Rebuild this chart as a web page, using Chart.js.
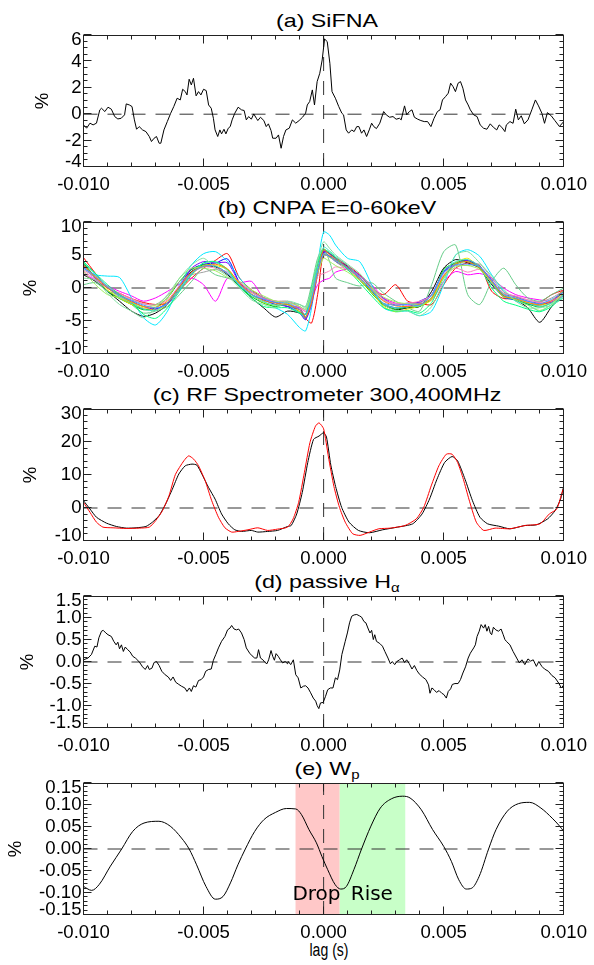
<!DOCTYPE html>
<html>
<head>
<meta charset="utf-8">
<script src="https://cdn.jsdelivr.net/npm/chart.js@4.4.0/dist/chart.umd.min.js"></script>
<style>
body { margin: 0; background: #fff; width: 594px; height: 965px; position: relative; overflow: hidden;
       font-family: "Liberation Sans", Arial, sans-serif; }
canvas { position: absolute; left: 0; }
.ttl { position: absolute; left: 326.5px; white-space: nowrap; font-size: 18.6px; line-height: 20px;
       transform: translateX(-50%) scaleX(1.25); color: #000; }
.ttl sub { font-size: 12px; vertical-align: -4px; line-height: 0; }
.xlab { position: absolute; left: 329px; top: 940px; white-space: nowrap; font-size: 18px; line-height: 20px;
        transform: translateX(-50%) scaleX(0.78); color: #000; }
</style>
</head>
<body>
<div class="ttl" style="top:10.6px">(a) SiFNA</div>
<div class="ttl" style="top:197.6px">(b) CNPA E=0-60keV</div>
<div class="ttl" style="top:384.6px">(c) RF Spectrometer 300,400MHz</div>
<div class="ttl" style="top:571.6px">(d) passive H<sub>&alpha;</sub></div>
<div class="ttl" style="top:758.6px">(e) W<sub>p</sub></div>
<div class="xlab">lag (s)</div>
<canvas id="ca" width="594" height="196"></canvas>
<canvas id="cb" width="594" height="196"></canvas>
<canvas id="cc" width="594" height="196"></canvas>
<canvas id="cd" width="594" height="196"></canvas>
<canvas id="ce" width="594" height="196"></canvas>
<script>
// ---- shared axis ----
const xTickVals = [-0.010, -0.005, 0.000, 0.005, 0.010];
const xTickLabels = ['-0.010', '-0.005', '0.000', '0.005', '0.010'];

// ---- (a) SiFNA, lag in ms ----
const lagA = [-10.0,-9.87,-9.73,-9.60,-9.46,-9.32,-9.25,-9.11,-8.98,-8.84,
  -8.70,-8.57,-8.43,-8.29,-8.22,-8.09,-7.98,-7.88,-7.79,-7.68,
  -7.54,-7.40,-7.26,-7.17,-7.06,-6.96,-6.85,-6.78,-6.65,-6.51,
  -6.37,-6.24,-6.10,-5.97,-5.87,-5.76,-5.69,-5.60,-5.51,-5.42,
  -5.31,-5.21,-5.11,-5.00,-4.89,-4.79,-4.68,-4.59,-4.52,-4.41,
  -4.32,-4.25,-4.15,-4.07,-3.97,-3.89,-3.81,-3.70,-3.56,-3.42,
  -3.31,-3.22,-3.12,-3.01,-2.91,-2.80,-2.74,-2.63,-2.49,-2.39,
  -2.30,-2.19,-2.12,-1.98,-1.88,-1.77,-1.67,-1.57,-1.43,-1.30,
  -1.16,-1.02,-0.88,-0.75,-0.68,-0.58,-0.47,-0.38,-0.27,-0.16,
  -0.06,0.04,0.15,0.26,0.35,0.49,0.63,0.76,0.83,0.94,
  1.04,1.17,1.27,1.38,1.47,1.58,1.68,1.79,1.90,2.00,
  2.09,2.20,2.34,2.50,2.61,2.75,2.89,3.02,3.16,3.23,
  3.37,3.46,3.57,3.68,3.78,3.92,4.05,4.19,4.33,4.47,
  4.60,4.74,4.85,4.95,5.08,5.19,5.29,5.39,5.49,5.60,
  5.70,5.80,5.91,6.02,6.11,6.25,6.39,6.52,6.66,6.80,
  6.94,7.07,7.21,7.31,7.42,7.55,7.61,7.76,7.89,8.00,
  8.11,8.23,8.36,8.51,8.67,8.82,8.95,9.09,9.20,9.32,
  9.48,9.63,9.82,10.0];
const sifna = [-0.81,-1.06,-0.68,-0.81,-0.68,0.33,0.45,0.20,0.53,0.38,
  -0.18,-0.36,-0.31,-0.05,0.78,0.70,0.58,-0.43,-1.14,-0.94,
  -1.19,-1.32,-1.69,-2.07,-1.82,-1.69,-2.20,-2.20,-1.19,-0.56,
  0.07,0.58,1.21,1.08,1.89,1.71,1.46,2.65,2.22,2.72,
  1.39,1.71,1.46,1.89,1.79,0.70,0.45,-0.31,-1.19,-1.69,
  -1.19,-1.49,-1.14,-1.49,-1.06,-0.94,-0.43,0.07,0.53,0.33,
  0.28,-0.43,-0.18,-0.38,0.02,-0.31,-0.48,-0.23,-0.48,-0.94,
  -0.73,-1.24,-1.82,-1.82,-1.57,-2.58,-1.69,-1.19,-1.06,-0.43,
  -0.68,-0.48,-0.23,0.07,0.70,0.96,1.84,0.70,2.47,3.10,
  4.11,5.70,5.50,3.86,1.71,1.21,0.58,0.07,-0.05,-1.19,
  -1.44,-1.19,-1.32,-0.94,-0.94,-1.44,-1.19,-1.69,-1.19,-0.68,
  -0.94,-1.09,-0.68,0.20,-0.05,-0.23,-0.18,-0.38,-0.31,-0.43,
  0.63,-0.05,0.20,0.33,-0.23,-0.38,-0.48,-0.56,-0.56,-0.94,
  -0.31,0.20,0.33,1.08,1.34,1.59,2.35,2.09,1.71,2.35,
  2.47,1.97,1.08,0.70,0.33,-0.05,-0.18,-0.81,-1.06,-1.14,
  -0.73,-0.99,-1.19,-0.81,-0.99,-1.32,-0.81,-0.56,-0.69,0.38,
  -0.43,-0.12,-0.73,-0.43,0.33,1.08,0.63,0.07,-0.69,0.12,
  -0.12,-0.48,-0.93,-0.56];

// ---- (b) CNPA, one lag grid (ms) for all channels ----
const lagB = [-10,-9.5,-9,-8.5,-8,-7.5,-7,-6.5,-6,-5.5,-5,-4.5,-4,-3.5,-3,-2.5,-2,-1.5,-1,-0.75,
  -0.5,-0.25,0,0.25,0.5,1,1.5,2,2.5,3,3.5,4,4.5,5,5.5,6,6.5,7,7.5,8,8.5,9,9.5,10];
const cnpaColors = ['#000000','#ff0000','#0000ff','#ff00ff','#00e8ff','#00c000','#66cc88','#e8e800',
  '#8000ff','#a0a0a0','#ff80c0','#40e0c0','#00ff80','#a0f060','#ff8000','#40a0ff','#80e0a0'];
const cnpa = [
  [2.0,1.0,-0.5,-2.0,-3.5,-4.3,-3.8,-2.5,0.0,2.5,3.3,3.2,2.0,0.3,-1.5,-3.0,-4.4,-3.5,-3.8,-4.5,-2.0,2.8,5.0,4.8,4.2,3.3,1.2,-0.5,-2.5,-3.3,-3.0,-2.8,-0.5,3.0,4.3,3.8,3.0,0.5,-1.2,-1.8,-3.0,-5.2,-2.8,-0.8],
  [4.6,2.2,0.0,-0.8,-1.6,-2.2,-2.5,-2.3,-0.3,1.5,3.0,4.2,5.2,1.5,-0.3,-1.5,-2.2,-2.8,-3.0,-4.6,-5.3,-1.0,5.5,5.2,4.6,3.4,2.0,0.0,-1.0,0.5,-2.0,-2.3,-2.5,0.5,3.0,3.8,3.4,-0.5,-1.6,-1.6,-2.5,-2.2,-1.0,-0.3],
  [3.6,1.5,-0.5,-1.5,-2.3,-3.2,-3.2,-2.2,0.3,2.8,3.6,3.8,4.4,0.8,-1.0,-1.8,-2.5,-2.8,-3.8,-4.8,-1.2,3.0,5.4,4.8,4.0,3.0,1.4,-0.4,-2.4,-3.0,-2.9,-2.0,-1.0,2.5,3.8,4.2,3.0,0.7,-1.4,-1.8,-2.4,-2.6,-2.0,-0.6],
  [2.2,1.2,0.3,-0.5,-1.2,-2.0,-1.5,-0.5,0.6,1.5,0.5,-2.0,1.5,0.8,1.0,-1.5,-2.0,-2.5,-3.0,-3.5,-1.8,0.5,1.2,1.5,2.4,2.8,1.8,0.5,-1.5,-2.3,-2.6,-2.4,-1.8,1.0,2.5,2.0,2.2,1.5,0.0,-1.0,-1.5,-1.8,-2.0,-1.2],
  [3.0,2.0,1.8,1.6,-1.5,-4.5,-5.6,-3.5,0.5,3.5,5.2,5.5,4.0,1.5,-0.5,-2.0,-3.0,-4.0,-6.0,-6.5,-3.0,3.5,8.5,8.0,6.5,4.5,4.0,0.5,-3.0,-3.6,-3.5,-4.2,-3.5,0.5,5.0,5.8,4.8,2.0,-0.5,-2.0,-2.5,-3.5,-2.5,-1.5],
  [3.8,1.6,-0.5,-1.6,-2.5,-3.3,-3.0,-1.5,1.0,2.8,3.5,3.3,2.2,0.2,-1.3,-2.3,-2.8,-2.5,-3.6,-4.0,-0.5,3.6,5.8,5.2,4.5,3.0,1.3,-0.8,-2.6,-3.2,-2.9,-2.8,-1.6,2.8,3.8,4.2,3.2,0.9,-1.2,-1.8,-2.4,-2.9,-2.2,-0.5],
  [0.5,0.8,-0.5,-1.0,-2.5,-3.8,-3.5,-2.8,-1.0,1.0,3.0,2.0,1.5,0.8,-0.5,-1.5,-2.0,-2.2,-2.5,-2.8,0.5,4.5,6.0,4.0,1.5,0.8,0.3,0.8,-0.8,-2.0,-3.0,-3.5,0.5,5.5,6.5,-1.0,-2.5,1.0,3.0,0.5,-1.5,-2.0,-1.0,0.0],
  [3.5,1.5,-0.3,-1.5,-2.5,-3.0,-3.3,-2.5,-0.2,2.0,3.4,3.4,2.8,0.6,-1.0,-2.2,-2.6,-2.4,-3.6,-4.6,-2.0,2.0,5.2,4.6,4.2,2.8,1.2,-0.6,-2.8,-3.6,-3.2,-2.7,-1.8,1.8,3.8,4.5,3.0,0.8,-1.4,-1.4,-2.2,-2.6,-2.2,-0.8],
  [3.2,1.4,0.0,-1.0,-2.0,-2.8,-3.2,-2.3,0.2,3.0,4.0,3.8,3.8,0.8,-0.6,-1.6,-2.2,-2.8,-3.3,-4.7,-2.5,2.0,5.6,5.2,4.4,3.2,1.9,0.1,-1.6,-2.6,-2.3,-2.2,-1.0,2.4,3.6,4.2,3.3,1.2,-0.9,-1.3,-2.0,-2.3,-2.1,-0.2],
  [2.8,1.6,0.3,-1.0,-1.8,-2.4,-2.5,-1.2,1.0,2.0,2.4,2.8,2.2,0.5,-0.7,-1.4,-2.0,-2.0,-2.8,-3.2,-0.5,3.0,5.0,4.8,4.0,2.7,1.8,0.2,-1.8,-2.4,-2.3,-2.3,-1.0,2.0,3.4,3.4,3.6,1.5,-0.6,-1.3,-1.8,-2.1,-1.5,-0.4],
  [2.6,1.3,0.2,-0.8,-1.6,-2.4,-2.6,-1.8,0.4,2.2,3.2,3.0,2.4,0.9,-0.6,-1.6,-2.0,-2.1,-2.9,-3.6,-1.2,1.8,2.2,2.6,3.2,2.8,1.4,-0.1,-1.9,-2.4,-2.3,-2.0,-1.1,2.0,3.0,2.4,2.8,1.0,-0.8,-1.2,-1.8,-2.2,-2.0,-0.8],
  [3.9,2.0,0.1,-1.4,-2.2,-3.2,-3.4,-2.2,0.0,2.3,3.8,3.9,2.6,0.4,-1.1,-2.1,-2.6,-2.6,-3.8,-4.4,-1.0,3.2,6.2,5.6,4.8,3.4,1.6,-0.4,-2.4,-3.0,-2.8,-2.7,-1.4,2.6,4.0,4.3,3.3,0.7,-1.3,-1.7,-2.3,-2.8,-2.3,-1.0],
  [4.0,2.2,0.5,-1.0,-2.2,-4.0,-4.6,-3.0,-0.5,2.0,3.8,4.0,2.8,0.2,-1.5,-2.8,-3.0,-3.0,-3.8,-4.0,0.0,3.8,5.8,5.4,4.6,2.8,0.8,-1.2,-3.0,-3.5,-3.4,-3.8,-2.2,1.5,3.6,4.0,3.0,0.0,-2.0,-2.6,-3.2,-3.6,-2.8,-1.2],
  [2.5,0.5,-1.0,-1.5,-2.2,-2.8,-2.6,-1.5,1.5,3.0,3.0,2.6,1.6,1.0,-0.3,-1.2,-2.0,-2.2,-2.8,-3.3,-1.0,2.2,4.5,4.0,3.4,2.4,1.2,0.0,-1.4,-2.1,-2.4,-2.5,-1.6,1.5,3.2,3.4,2.8,0.8,-0.9,-1.8,-2.6,-3.4,-2.5,-0.8],
  [3.4,1.7,0.0,-1.2,-2.1,-2.8,-2.9,-2.0,0.2,2.4,3.3,3.6,2.9,0.7,-0.9,-1.9,-2.3,-2.5,-3.3,-4.3,-2.2,2.4,5.8,5.0,4.3,3.1,1.6,-0.2,-2.0,-2.7,-2.8,-2.5,-1.5,1.8,3.6,4.0,3.0,1.0,-1.2,-1.6,-2.2,-2.5,-1.9,-0.3],
  [3.0,1.9,0.2,-1.2,-1.9,-2.6,-3.0,-2.5,-0.3,2.2,3.3,3.3,2.2,0.4,-1.0,-1.7,-2.2,-2.3,-3.2,-4.0,-1.5,2.6,5.2,4.7,4.2,3.0,1.6,-0.3,-2.3,-2.6,-2.5,-2.6,-1.1,2.3,3.5,3.6,3.2,1.1,-1.0,-1.5,-2.0,-2.4,-1.7,-0.6],
  [1.5,1.2,-0.8,-2.5,-3.5,-4.5,-3.0,-1.0,1.5,3.5,4.5,3.0,1.8,0.0,-1.8,-2.5,-3.0,-2.0,-2.5,-3.0,-0.2,4.0,7.0,6.0,5.0,3.6,2.2,0.2,-2.5,-3.4,-3.5,-4.2,-2.8,1.0,5.0,5.5,3.8,1.8,-0.2,-2.0,-3.0,-3.0,-2.6,-1.5]
];

// ---- (c) RF spectrometer 300 MHz (black) and 400 MHz (red) ----
const lagC300 = [-10.0,-9.73,-9.46,-9.04,-8.63,-8.22,-7.81,-7.40,-7.13,-6.85,-6.58,-6.30,-6.03,-5.76,-5.48,-5.28,
  -5.07,-4.79,-4.52,-4.25,-3.97,-3.70,-3.42,-3.01,-2.74,-2.33,-1.92,-1.50,-1.35,-1.12,-0.89,-0.66,-0.42,-0.19,
  0.0,0.12,0.30,0.50,0.75,1.06,1.45,1.91,2.46,3.08,3.71,4.10,4.41,4.72,5.04,5.35,5.58,5.89,6.20,6.51,6.83,
  7.29,7.76,8.39,8.86,9.33,9.64,9.87,10.0];
const rf300 = [2.2,-0.3,-2.8,-4.6,-5.6,-6.1,-6.0,-5.6,-4.3,-2.3,1.2,5.7,10.3,12.8,13.3,13.0,
  10.3,6.2,2.7,-1.8,-4.8,-6.6,-7.1,-6.8,-7.3,-7.1,-6.8,-5.6,-5.3,-1.8,4.7,13.8,20.8,21.8,
  22.8,21.5,13.0,6.5,0.2,-4.3,-6.8,-7.5,-6.6,-5.8,-4.8,-1.8,2.7,8.7,13.8,15.6,14.3,8.7,2.2,-2.8,-4.8,
  -5.5,-6.3,-5.3,-5.1,-3.3,-0.8,2.7,6.7];
const lagC400 = [-10.0,-9.73,-9.46,-9.19,-8.77,-8.22,-7.68,-7.26,-6.99,-6.71,-6.44,-6.17,-5.82,-5.62,-5.41,-5.21,
  -4.93,-4.66,-4.38,-4.11,-3.83,-3.56,-3.15,-2.74,-2.33,-1.92,-1.50,-1.27,-1.04,-0.80,-0.57,-0.34,-0.19,
  0.0,0.20,0.43,0.66,0.90,1.21,1.52,1.91,2.30,2.77,3.39,3.86,4.17,4.48,4.80,5.11,5.35,5.58,5.82,6.05,6.36,
  6.67,7.14,7.76,8.39,9.01,9.40,9.71,9.95,10.0];
const rf400 = [1.7,-1.3,-4.3,-5.8,-6.0,-6.2,-6.1,-5.8,-3.8,-0.8,3.7,10.2,14.3,15.8,14.8,12.8,
  8.2,2.2,-2.8,-6.0,-7.3,-7.1,-6.6,-6.0,-6.8,-6.4,-5.8,-3.3,1.7,10.8,19.8,24.8,25.8,
  24.0,15.5,6.5,0.2,-4.3,-7.8,-8.3,-7.3,-6.3,-6.1,-5.3,-3.3,0.2,6.7,12.8,16.3,16.3,13.8,8.7,2.7,-4.3,
  -6.8,-6.1,-6.3,-5.3,-4.8,-1.8,-0.3,5.2,6.0];

// ---- (d) passive H-alpha ----
const lagD = [-10.0,-9.81,-9.67,-9.53,-9.44,-9.36,-9.25,-9.18,-9.07,-8.98,-8.84,-8.74,-8.64,-8.57,-8.50,-8.42,-8.34,-8.26,-8.16,-8.06,
  -7.95,-7.84,-7.74,-7.65,-7.54,-7.43,-7.33,-7.26,-7.15,-7.06,-6.96,-6.85,-6.74,-6.60,-6.47,-6.37,-6.27,-6.16,-6.03,-5.92,
  -5.78,-5.69,-5.59,-5.51,-5.42,-5.32,-5.21,-5.10,-5.00,-4.91,-4.79,-4.68,-4.59,-4.49,-4.38,-4.25,-4.11,-4.00,-3.90,-3.83,
  -3.73,-3.63,-3.54,-3.42,-3.31,-3.22,-3.08,-2.98,-2.87,-2.78,-2.71,-2.63,-2.53,-2.44,-2.36,-2.29,-2.19,-2.12,-2.05,-1.98,
  -1.89,-1.80,-1.71,-1.60,-1.50,
  -1.47,-1.37,-1.26,-1.16,-1.06,-0.95,-0.84,-0.75,-0.65,-0.54,-0.43,-0.33,-0.27,-0.20,-0.13,-0.02,0.08,0.17,0.28,0.39,
  0.49,0.58,0.67,0.76,0.83,0.90,0.99,1.08,1.17,1.27,1.38,1.49,1.58,1.68,1.76,1.86,1.93,2.00,2.07,2.13,
  2.20,2.34,2.45,2.55,2.68,2.78,2.86,2.96,3.05,3.16,3.27,3.37,3.46,3.57,3.68,3.78,3.88,3.98,4.12,4.26,
  4.37,4.43,4.51,4.60,4.70,4.81,4.92,5.01,5.11,5.19,5.29,5.36,5.47,5.60,5.70,5.80,5.91,6.02,6.11,6.25,
  6.32,6.39,6.48,6.56,6.66,6.73,6.80,6.87,6.94,7.00,7.07,7.17,7.28,7.39,7.48,7.55,
  7.61,7.76,7.89,8.04,8.15,8.26,8.38,8.51,8.62,8.73,8.86,8.96,9.09,9.20,9.36,9.51,9.64,9.79,9.90,10.0];
const halpha = [0.05,0.09,0.17,0.36,0.34,0.55,0.70,0.72,0.66,0.62,0.58,0.47,0.39,0.45,0.30,0.39,0.24,0.34,0.28,0.23,
  0.13,0.09,0.04,-0.02,-0.11,-0.17,-0.08,-0.17,-0.14,-0.01,0.01,-0.08,-0.21,-0.29,-0.34,-0.42,-0.34,-0.46,-0.51,-0.55,
  -0.59,-0.67,-0.59,-0.67,-0.54,-0.57,-0.42,-0.40,-0.34,-0.21,-0.17,-0.16,0.04,0.17,0.32,0.47,0.58,0.73,0.77,0.83,
  0.75,0.73,0.75,0.66,0.51,0.32,0.20,0.14,0.09,0.09,0.28,0.09,0.05,-0.01,-0.04,0.05,0.26,0.13,0.04,0.19,
  0.13,0.05,-0.02,0.01,-0.04,
  0.01,-0.06,0.05,-0.29,-0.36,-0.59,-0.55,-0.54,-0.59,-0.70,-0.82,-0.89,-0.99,-1.06,-0.93,-0.92,-0.78,-0.63,-0.59,-0.59,
  -0.36,-0.40,-0.18,0.17,0.32,0.47,0.66,0.89,1.04,1.07,1.08,1.05,1.02,0.92,0.89,0.75,0.66,0.72,0.51,0.62,
  0.47,0.42,0.36,0.24,0.09,-0.04,0.01,-0.06,0.01,0.05,0.09,-0.01,0.05,-0.04,-0.16,-0.08,-0.19,-0.27,-0.34,-0.40,
  -0.52,-0.71,-0.59,-0.63,-0.69,-0.65,-0.71,-0.74,-0.82,-0.67,-0.61,-0.51,-0.49,-0.49,-0.40,-0.25,-0.11,0.09,0.20,0.32,
  0.39,0.58,0.70,0.85,0.77,0.85,0.70,0.81,0.66,0.62,0.79,0.73,0.70,0.75,0.62,0.51,
  0.47,0.39,0.24,0.09,-0.02,0.05,-0.06,0.07,0.02,0.05,-0.10,0.01,-0.10,-0.16,-0.21,-0.31,-0.36,-0.48,-0.59,-0.52];

// ---- (e) Wp ----
const lagE = [-10.0,-9.66,-9.35,-8.88,-8.41,-7.95,-7.48,-6.86,-6.39,-5.92,-5.60,-5.29,-4.90,-4.51,-4.19,-3.88,-3.57,-3.26,
  -2.87,-2.48,-2.01,-1.55,-1.16,-0.92,-0.61,-0.30,-0.07,0.17,0.48,0.71,0.95,1.26,1.58,1.97,2.36,2.82,3.29,3.60,
  4.07,4.54,5.00,5.32,5.63,5.94,6.17,6.48,6.87,7.18,7.65,8.11,8.58,9.05,9.52,9.83,10.0];
const wp = [-0.085,-0.094,-0.081,-0.039,0.000,0.040,0.059,0.063,0.052,0.025,0.000,-0.036,-0.085,-0.114,-0.108,-0.077,-0.036,0.000,
  0.040,0.067,0.083,0.092,0.091,0.078,0.044,0.014,-0.017,-0.047,-0.081,-0.091,-0.085,-0.047,0.000,0.052,0.093,0.114,0.120,0.116,
  0.089,0.044,0.006,-0.028,-0.070,-0.091,-0.089,-0.062,0.000,0.044,0.086,0.103,0.106,0.093,0.070,0.052,0.040];
const shadeRanges = [[-0.00117, 0.00067], [0.00067, 0.0034]];
const shadeColors = ['#ffc8c8', '#c8ffc8'];
const shadeLabels = ['Drop', 'Rise'];
const shadeLabelX = [-0.0013, 0.00113];
const shadeLabelY = -0.117;

const FONT = '"Liberation Sans", Arial, sans-serif';
const PAD_TOP = 14, BOX_H = 132, AXIS_H = 50;

// box + IDL style inward ticks
const frame = {
  id: 'frame',
  beforeDatasetsDraw(chart, args, o) {
    if (!o.shade) return;
    const { ctx, chartArea: a, scales: { x } } = chart;
    ctx.save();
    shadeRanges.forEach((r, i) => {
      const x0 = x.getPixelForValue(r[0]), x1 = x.getPixelForValue(r[1]);
      ctx.fillStyle = shadeColors[i];
      ctx.fillRect(x0, a.top, x1 - x0, a.bottom - a.top);
    });
    ctx.restore();
  },
  afterDatasetsDraw(chart, args, o) {
    const { ctx, chartArea: a, scales: { x, y } } = chart;
    const L = Math.round(a.left) - 0.5, R = Math.round(a.right) - 0.5;
    const T = Math.round(a.top) + 0.5, B = Math.round(a.bottom) - 0.5;
    ctx.save();
    ctx.strokeStyle = '#222';
    ctx.lineWidth = 1;
    ctx.strokeRect(L, T, R - L, B - T);
    ctx.beginPath();
    // x ticks: majors every 0.005, minors every 0.001
    for (let k = 0; k <= 20; k++) {
      const px = Math.round(x.getPixelForValue(-0.01 + k * 0.001)) - 0.5;
      const len = k % 5 === 0 ? 8 : 4;
      ctx.moveTo(px, B); ctx.lineTo(px, B - len);
      ctx.moveTo(px, T); ctx.lineTo(px, T + len);
    }
    const step = o.yStep / o.yMinor;
    const n = Math.round((o.yMax - o.yMin) / step);
    for (let k = 0; k <= n; k++) {
      const py = Math.round(y.getPixelForValue(o.yMin + k * step)) - 0.5;
      const len = k % o.yMinor === 0 ? 8 : 4;
      ctx.moveTo(L, py); ctx.lineTo(L + len, py);
      ctx.moveTo(R, py); ctx.lineTo(R - len, py);
    }
    ctx.stroke();
    if (o.shade) {
      ctx.fillStyle = '#000';
      ctx.font = '20px "DejaVu Sans"';
      ctx.textBaseline = 'alphabetic';
      shadeLabels.forEach((s, i) => ctx.fillText(s, x.getPixelForValue(shadeLabelX[i]), y.getPixelForValue(shadeLabelY)));
    }
    ctx.restore();
  }
};

function line(lag, vals, color, extra) {
  return Object.assign({
    data: lag.map((t, i) => ({ x: t / 1000, y: vals[i] })),
    borderColor: color, borderWidth: 1, pointRadius: 0, tension: 0, fill: false
  }, extra || {});
}

function makePanel(p) {
  const cv = document.getElementById(p.id);
  cv.style.top = (p.top - PAD_TOP) + 'px';
  const dash = { borderColor: '#333', borderWidth: 1, borderDash: [14, 10], pointRadius: 0 };
  const datasets = p.series.concat([
    Object.assign({ data: [{ x: -0.01, y: 0 }, { x: 0.01, y: 0 }] }, dash),
    Object.assign({ data: [{ x: 0, y: p.yMin }, { x: 0, y: p.yMax }] }, dash)
  ]);
  const yVals = [];
  for (let v = p.yMin; v <= p.yMax + 1e-9; v += p.yStep) yVals.push(+v.toFixed(4));
  new Chart(cv, {
    type: 'line',
    data: { datasets },
    plugins: [frame],
    options: {
      responsive: false, animation: false,
      layout: { padding: { top: PAD_TOP, right: 24.5, left: 0, bottom: 0 } },
      plugins: {
        legend: { display: false }, tooltip: { enabled: false },
        frame: { yMin: p.yMin, yMax: p.yMax, yStep: p.yStep, yMinor: p.yMinor, shade: !!p.shade }
      },
      scales: {
        x: {
          type: 'linear', min: -0.01, max: 0.01,
          afterBuildTicks: s => { s.ticks = xTickVals.map(v => ({ value: v })); },
          afterFit: s => { s.height = AXIS_H; },
          grid: { display: false, drawTicks: false }, border: { display: false },
          ticks: { padding: 7, autoSkip: false, maxRotation: 0, minRotation: 0, color: '#000',
                   font: { family: FONT, size: 18.6 }, callback: (v, i) => xTickLabels[i] }
        },
        y: {
          type: 'linear', min: p.yMin, max: p.yMax,
          afterBuildTicks: s => { s.ticks = yVals.map(v => ({ value: v })); },
          afterFit: s => { s.width = 83.5; },
          grid: { display: false, drawTicks: false }, border: { display: false },
          ticks: { padding: 2, autoSkip: false, color: '#000',
                   font: { family: FONT, size: 18.6, lineHeight: 0.54 },
                   callback: (v, i, arr) => {
                     const s = p.yLabels[i];
                     if (i === arr.length - 1) return ['', s];
                     if (i === 0) return [s, ''];
                     return s;
                   } },
          title: { display: true, text: '%', color: '#000', font: { family: FONT, size: 18.6 },
                   padding: { top: p.pctX - 11.2, bottom: 0 } }
        }
      }
    }
  });
}

makePanel({ id: 'ca', top: 35, yMin: -4, yMax: 6, yStep: 2, yMinor: 4, pctX: 42.5,
  yLabels: ['-4', '-2', '0', '2', '4', '6'],
  series: [line(lagA, sifna, '#000')] });

makePanel({ id: 'cb', top: 222, yMin: -10, yMax: 10, yStep: 5, yMinor: 5, pctX: 31,
  yLabels: ['-10', '-5', '0', '5', '10'],
  series: cnpa.map((vals, k) => line(lagB, vals, cnpaColors[k], { tension: 0.25 })).reverse() });

makePanel({ id: 'cc', top: 409, yMin: -10, yMax: 30, yStep: 10, yMinor: 5, pctX: 31,
  yLabels: ['-10', '0', '10', '20', '30'],
  series: [line(lagC400, rf400, '#ff0000', { tension: 0.2 }), line(lagC300, rf300, '#000', { tension: 0.2 })] });

makePanel({ id: 'cd', top: 596, yMin: -1.5, yMax: 1.5, yStep: 0.5, yMinor: 5, pctX: 27.5,
  yLabels: ['-1.5', '-1.0', '-0.5', '0.0', '0.5', '1.0', '1.5'],
  series: [line(lagD, halpha, '#000')] });

makePanel({ id: 'ce', top: 783, yMin: -0.15, yMax: 0.15, yStep: 0.05, yMinor: 5, pctX: 16, shade: true,
  yLabels: ['-0.15', '-0.10', '-0.05', '0.00', '0.05', '0.10', '0.15'],
  series: [line(lagE, wp, '#000', { cubicInterpolationMode: 'monotone' })] });
</script>
</body>
</html>
